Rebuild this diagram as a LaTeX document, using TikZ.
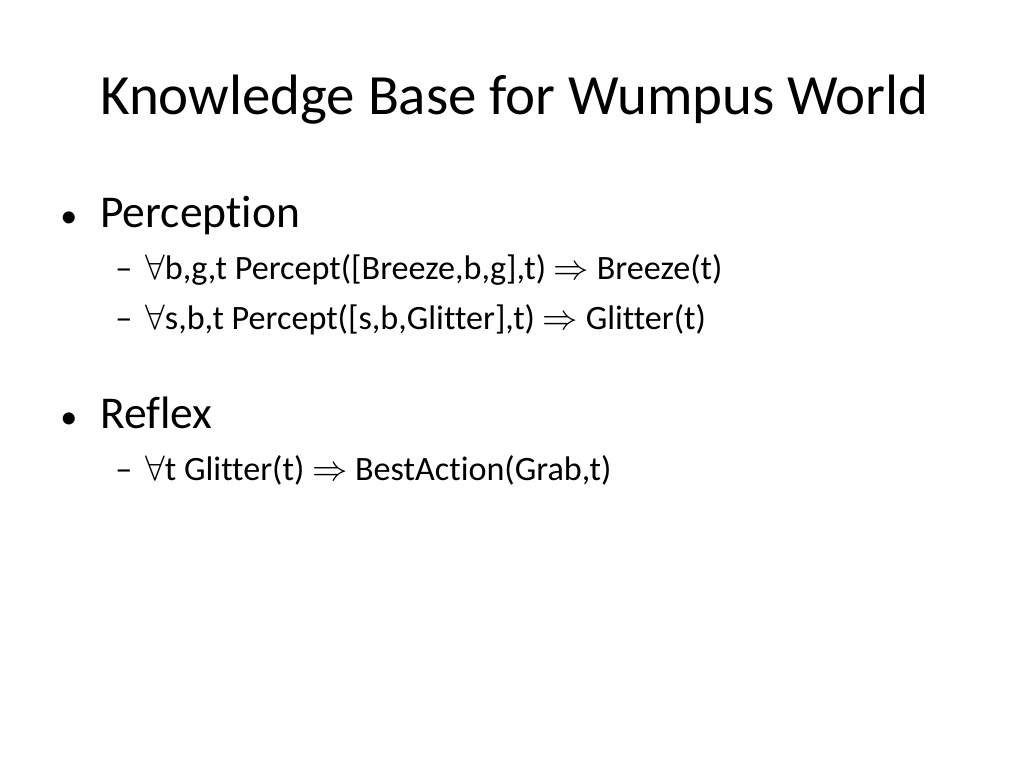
\documentclass[tikz,border=0pt]{standalone}
\usepackage{fontspec}
\setmainfont[Contextuals=NoAlternate,Ligatures=NoCommon]{Carlito}
\begin{document}
\begin{tikzpicture}[x=0.703125pt,y=-0.703125pt,
  title/.style={anchor=base west,inner sep=0pt,font=\fontsize{40}{48}\selectfont},
  lone/.style={anchor=base west,inner sep=0pt,font=\fontsize{32}{38}\selectfont},
  ltwo/.style={anchor=base west,inner sep=0pt,font=\fontsize{24}{28}\selectfont}]
\useasboundingbox (0,0) rectangle (1024,768);
\node[title] (t) at (100,115) {Knowledge Base for Wumpus World};
\node[ltwo] (b1) at (60,228) {•};
\node[lone] (p) at (100,228) {Perception};
\node[ltwo] (d1) at (115,280) {–};
\node[ltwo] (s1) at (145,280) {$\forall$b,g,t Percept([Breeze,b,g],t) $\Rightarrow$ Breeze(t)};
\node[ltwo] (d2) at (115,330) {–};
\node[ltwo] (s2) at (145,330) {$\forall$s,b,t Percept([s,b,Glitter],t) $\Rightarrow$ Glitter(t)};
\node[ltwo] (b2) at (60,428) {•};
\node[lone] (r) at (100,428) {Reflex};
\node[ltwo] (d3) at (115,480) {–};
\node[ltwo] (s3) at (145,480) {$\forall$t Glitter(t) $\Rightarrow$ BestAction(Grab,t)};
\end{tikzpicture}
\end{document}
